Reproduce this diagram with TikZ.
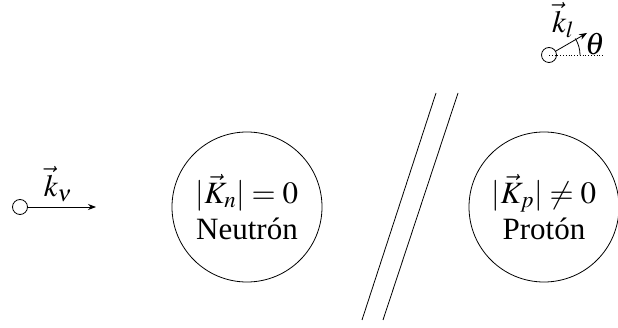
\documentclass[tikz,border=0pt]{standalone}
\usepackage{mathptmx}
\usepackage[no-math]{fontspec}
\setmainfont{Liberation Serif}
\usetikzlibrary{arrows.meta}
\begin{document}
\begin{tikzpicture}[x=1pt,y=-1pt,
  thinline/.style={line width=0.8pt},
  particle/.style={circle,draw,thinline,minimum size=15pt,inner sep=0pt},
  nucleon/.style={circle,draw,thinline,minimum size=150pt,inner sep=0pt,align=center,font=\fontsize{31}{36}\selectfont},
  lbl/.style={font=\fontsize{31}{36}\selectfont,inner sep=1pt},
  arr/.style={thinline,-{Stealth[length=8pt,width=6pt]}}]
\useasboundingbox (0,0) rectangle (618,328);
% neutrino
\node[particle] (nu) at (20,207) {};
\coordinate (nuend) at (96,207);
\draw[arr] (nu) -- (nuend);
\node[lbl] (knu) at (58,184) {$\vec{k}_\nu$};
% nucleons
\node[nucleon] (neutron) at (247,207) {$|\vec{K}_n| = 0$\\Neutr\'on};
\node[nucleon] (proton) at (544,207) {$|\vec{K}_p| \neq 0$\\Prot\'on};
% double lines
\coordinate (a1) at (436,93);
\coordinate (a2) at (362,320);
\coordinate (b1) at (458,93);
\coordinate (b2) at (383,320);
\draw[thinline] (a1) -- (a2);
\draw[thinline] (b1) -- (b2);
% outgoing lepton
\node[particle] (lep) at (549,55) {};
\coordinate (lend) at (587,33);
\coordinate (dotend) at (603,55);
\draw[arr] (lep) -- (lend);
\draw[thinline,dotted] (lep.center) -- (dotend);
\draw[thinline] (580,55) arc[start angle=0,end angle=-32,radius=31];
\node[lbl] (theta) at (595,44) {$\theta$};
\node[lbl] (kl) at (563,20) {$\vec{k}_l$};
\end{tikzpicture}
\end{document}
